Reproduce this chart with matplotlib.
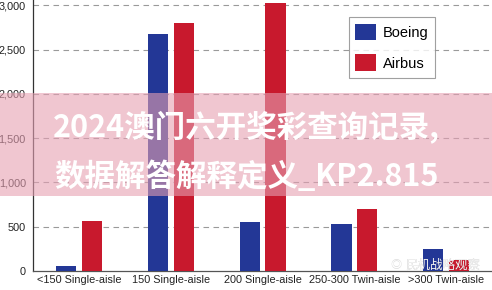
import matplotlib.pyplot as plt
import numpy as np
from matplotlib.patches import Patch, Rectangle

plt.rcParams["font.family"] = ["Liberation Sans Narrow", "Liberation Sans", "DejaVu Sans"]

# 机型类别 / 交付量
categories = ["<150 Single-aisle", "150 Single-aisle", "200 Single-aisle", "250-300 Twin-aisle", ">300 Twin-aisle"]
boeing = [55, 2680, 555, 530, 245]
airbus = [570, 2795, 3030, 695, 120]
yticks = [0, 500, 1000, 1500, 2000, 2500, 3000]

BLUE = "#233796"
RED = "#C8192D"


def main():
    fig = plt.figure(figsize=(4.92, 2.9), dpi=100)
    ax = fig.add_axes([33.3 / 492, 19 / 290, 1 - 33.3 / 492, 271 / 290])

    x = np.arange(len(categories))
    ax.bar(x - 0.14, boeing, width=0.22, color=BLUE, zorder=3)
    ax.bar(x + 0.14, airbus, width=0.22, color=RED, zorder=3)

    ax.set_xlim(-0.5, 4.5)
    ax.set_ylim(0, 3060)
    ax.set_yticks(yticks)
    ax.set_yticklabels([f"{v:,}" for v in yticks])
    ax.set_xticks(x)
    ax.set_xticklabels(categories)
    ax.tick_params(axis="both", length=0, labelsize=7.8, colors="#222222")
    ax.tick_params(axis="y", pad=5.4)
    ax.tick_params(axis="x", pad=3)

    for v in yticks[1:]:
        ax.axhline(v, color="#9a9a9a", lw=0.8, ls=(0, (5, 4)), zorder=1)

    for s in ["top", "right"]:
        ax.spines[s].set_visible(False)
    ax.spines["left"].set_color("#333333")
    ax.spines["bottom"].set_color("#555555")
    ax.spines["left"].set_linewidth(0.9)
    ax.spines["bottom"].set_linewidth(0.9)

    handles = [Patch(facecolor=BLUE, label="Boeing"), Patch(facecolor=RED, label="Airbus")]
    leg = ax.legend(handles=handles, loc="upper left", bbox_to_anchor=(0.688, 0.937),
                    fontsize=10.5, frameon=True, fancybox=False, edgecolor="#888888",
                    handlelength=1.4, handleheight=1.4, labelspacing=0.95,
                    handletextpad=0.5, borderpad=0.45, borderaxespad=0)
    leg.get_frame().set_linewidth(0.8)
    leg.set_zorder(5)

    # 粉色水印条
    fig.patches.append(Rectangle((0, (290 - 196) / 290), 1, (196 - 92.5) / 290,
                                 transform=fig.transFigure, facecolor=(230 / 255, 160 / 255, 178 / 255),
                                 alpha=0.6, edgecolor="none", zorder=10))
    cjk = ["Noto Sans CJK SC", "DejaVu Sans"]
    fig.text(0.5, 1 - 128 / 290, "2024澳门六开奖彩查询记录,", family=cjk, fontsize=22,
             fontweight="bold", color="white", ha="center", va="center", zorder=11)
    fig.text(0.5, 1 - 177 / 290, "数据解答解释定义_KP2.815", family=cjk, fontsize=22,
             fontweight="bold", color="white", ha="center", va="center", zorder=11)

    # 右下角公众号水印
    fig.text(396 / 492, 1 - 265 / 290, "◎", family=cjk, fontsize=8, color="#dddddd",
             ha="center", va="center", zorder=11)
    fig.text(405 / 492, 1 - 265 / 290, "民机战略观察", family=cjk, fontsize=9,
             color="#f4f4f4", ha="left", va="center", zorder=11)
    fig.text(405.5 / 492, 1 - 265.5 / 290, "民机战略观察", family=cjk, fontsize=9,
             color="#777777", alpha=0.5, ha="left", va="center", zorder=10.5)

    fig.savefig("out.png", dpi=100)


if __name__ == "__main__":
    main()
